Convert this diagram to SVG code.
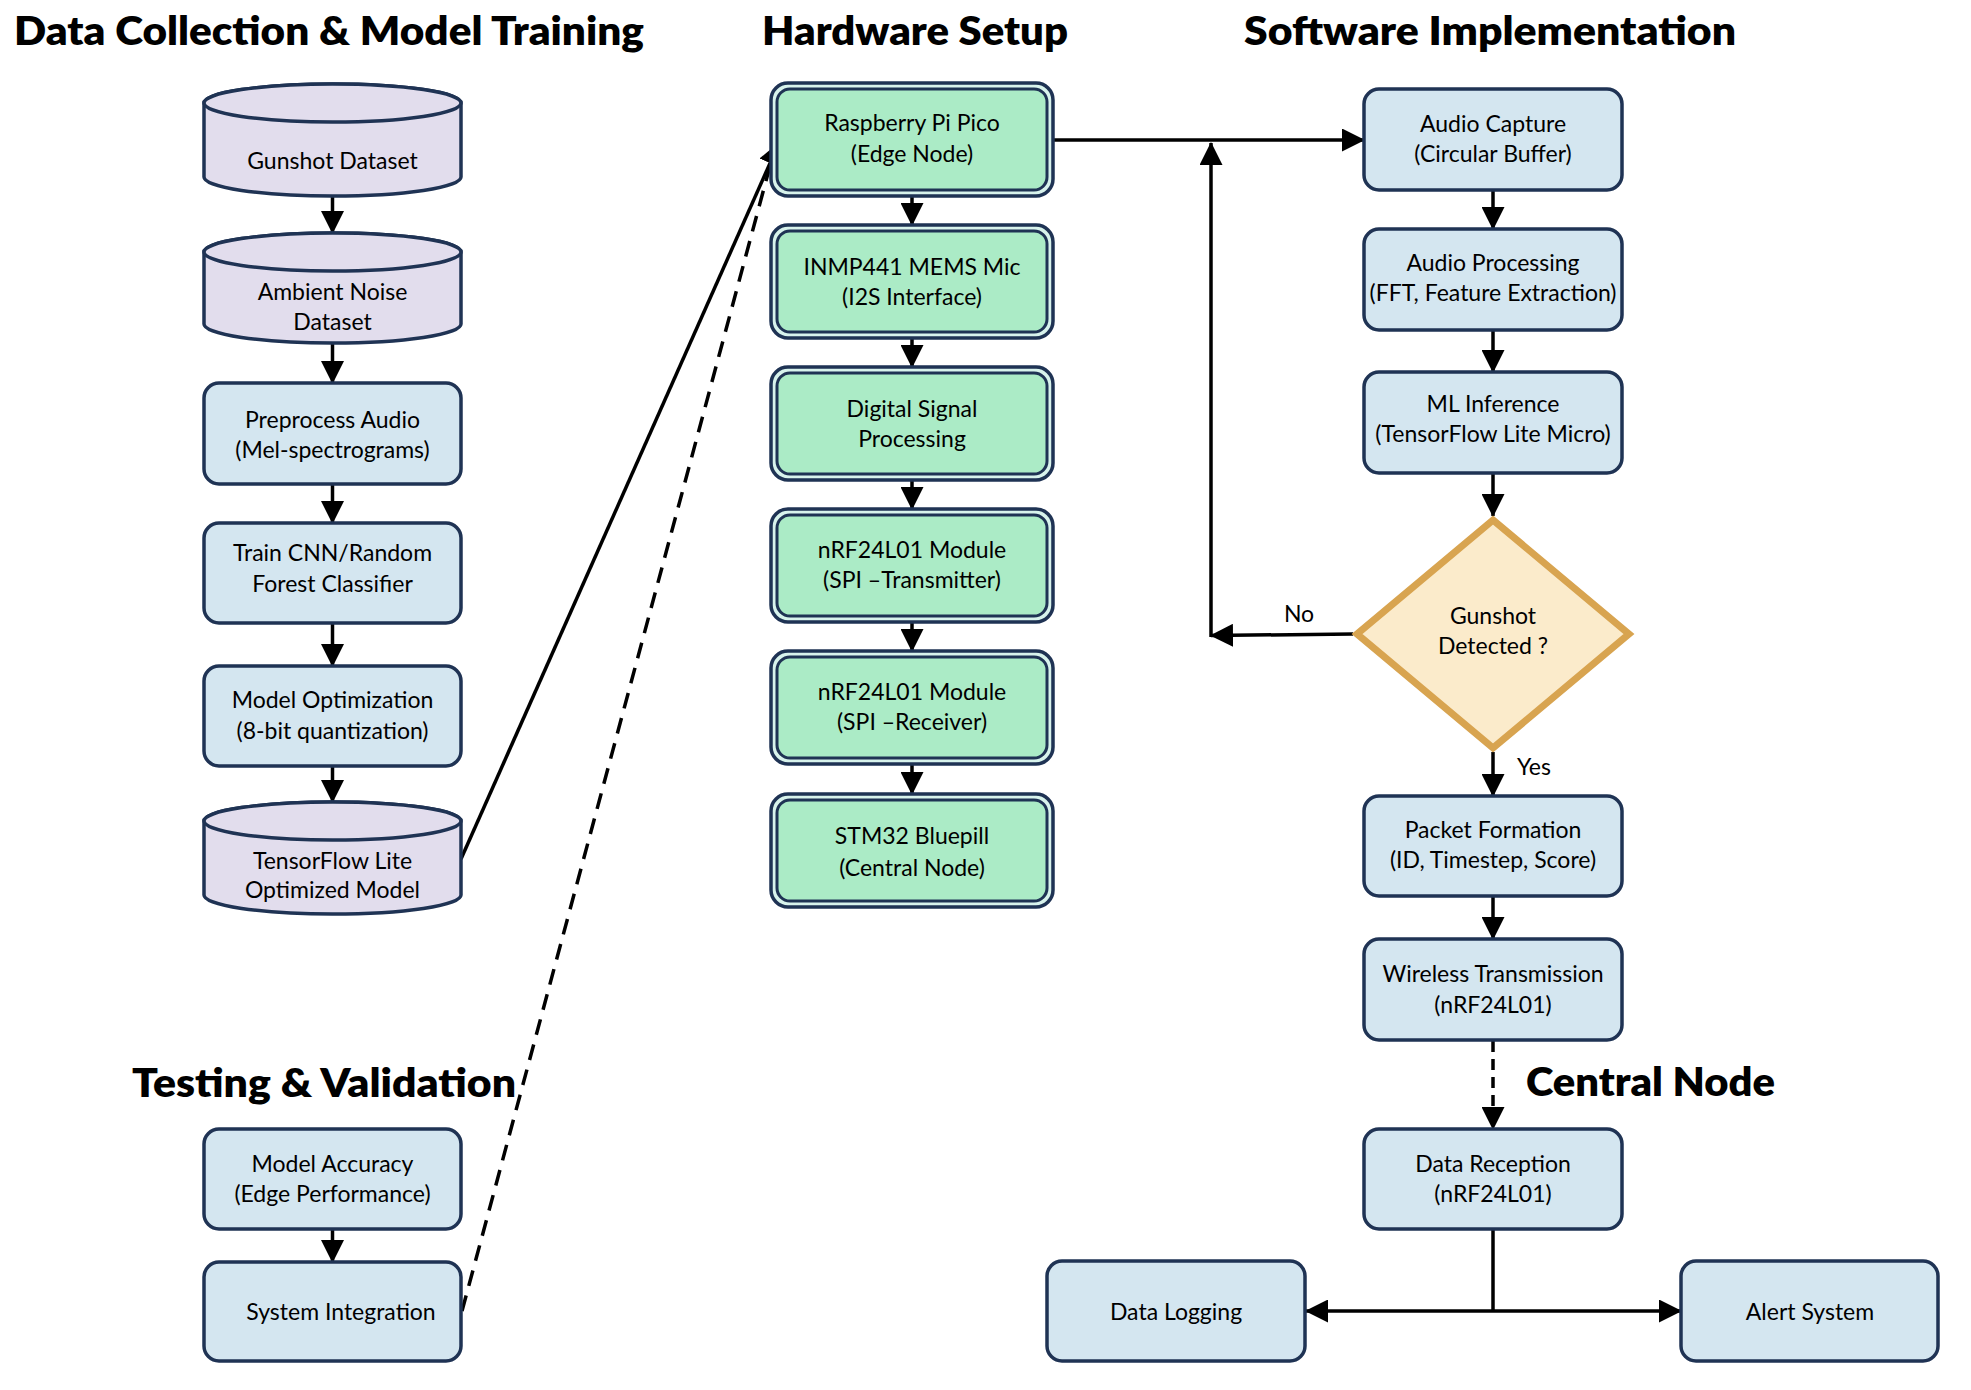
<svg xmlns="http://www.w3.org/2000/svg" width="1971" height="1390" viewBox="0 0 1971 1390">
<style>
.t{font-family:Lato,"Liberation Sans",sans-serif;font-size:23px;fill:#000;text-anchor:middle}
.h{font-family:Lato,"Liberation Sans",sans-serif;font-size:39px;font-weight:800;fill:#000}
.box{fill:#d4e6f0;stroke:#1f3354;stroke-width:3.5}
.cyl{fill:#e2dded;stroke:#1f3354;stroke-width:3.5}
.hwo{fill:#d8f3ec;stroke:#1f3354;stroke-width:3.5}
.hwi{fill:#abebc6;stroke:#1f3354;stroke-width:3}
.dia{fill:#fbebcb;stroke:#d8a450;stroke-width:7}
.c{fill:none;stroke:#000;stroke-width:3.5}
.d{stroke-dasharray:16 10}
</style>
<defs>
<marker id="ah" viewBox="0 0 23 23" refX="22" refY="11.5" markerWidth="23" markerHeight="23" markerUnits="userSpaceOnUse" orient="auto-start-reverse"><path d="M0,0 L23,11.5 L0,23 z" fill="#000"/></marker>
</defs>
<rect width="1971" height="1390" fill="#fff"/>

<g id="titles">
<text class="h" x="14" y="45" textLength="630" lengthAdjust="spacingAndGlyphs">Data Collection &amp; Model Training</text>
<text class="h" x="762" y="45" textLength="306" lengthAdjust="spacingAndGlyphs">Hardware Setup</text>
<text class="h" x="1244" y="45" textLength="492" lengthAdjust="spacingAndGlyphs">Software Implementation</text>
<text class="h" x="132" y="1097" textLength="384" lengthAdjust="spacingAndGlyphs">Testing &amp; Validation</text>
<text class="h" x="1526" y="1096" textLength="249" lengthAdjust="spacingAndGlyphs">Central Node</text>
</g>

<g id="connectors">
<path class="c" d="M332.5,197 V233" marker-end="url(#ah)"/>
<path class="c" d="M332.5,344 V383" marker-end="url(#ah)"/>
<path class="c" d="M332.5,485 V523" marker-end="url(#ah)"/>
<path class="c" d="M332.5,624 V666" marker-end="url(#ah)"/>
<path class="c" d="M332.5,767 V802" marker-end="url(#ah)"/>
<path class="c" d="M332.5,1229 V1262" marker-end="url(#ah)"/>
<path class="c" d="M912,196 V225" marker-end="url(#ah)"/>
<path class="c" d="M912,338 V367" marker-end="url(#ah)"/>
<path class="c" d="M912,480 V509" marker-end="url(#ah)"/>
<path class="c" d="M912,622 V651" marker-end="url(#ah)"/>
<path class="c" d="M912,764 V794" marker-end="url(#ah)"/>
<path class="c" d="M1493,191 V229" marker-end="url(#ah)"/>
<path class="c" d="M1493,331 V372" marker-end="url(#ah)"/>
<path class="c" d="M1493,474 V516" marker-end="url(#ah)"/>
<path class="c" d="M1493,752 V796" marker-end="url(#ah)"/>
<path class="c" d="M1493,897 V939" marker-end="url(#ah)"/>
<path class="c d" d="M1493,1041 V1129" style="stroke-dasharray:11 7" marker-end="url(#ah)"/>
<path class="c" d="M1054,140 H1364" marker-end="url(#ah)"/>
<path class="c" d="M1353,634 L1211,635.5" marker-end="url(#ah)"/>
<path class="c" d="M1211,637 V143" marker-end="url(#ah)"/>
<path class="c" d="M461,859 L779,143" marker-end="url(#ah)"/>
<path class="c d" d="M462,1311 L770,166"/>
<path class="c" d="M1493,1229 V1311" stroke-width="3"/>
<path class="c" d="M1306,1311 H1681" stroke-width="4.5" marker-start="url(#ah)" marker-end="url(#ah)"/>
</g>

<g id="gunshot-dataset">
<path class="cyl" d="M204,103 A128.5,19 0 0 1 461,103 V177 A128.5,19 0 0 1 204,177 Z"/>
<ellipse class="cyl" cx="332.5" cy="103" rx="128.5" ry="19"/>
<text class="t" x="332.5" y="169">Gunshot Dataset</text>
</g>
<g id="ambient-noise-dataset">
<path class="cyl" d="M204,252 A128.5,19 0 0 1 461,252 V324 A128.5,19 0 0 1 204,324 Z"/>
<ellipse class="cyl" cx="332.5" cy="252" rx="128.5" ry="19"/>
<text class="t" x="332.5" y="300">Ambient Noise</text>
<text class="t" x="332.5" y="330">Dataset</text>
</g>
<g id="preprocess-audio">
<rect class="box" x="204" y="383" width="257" height="101" rx="15"/>
<text class="t" x="332.5" y="428">Preprocess Audio</text>
<text class="t" x="332.5" y="458">(Mel-spectrograms)</text>
</g>
<g id="train-classifier">
<rect class="box" x="204" y="523" width="257" height="100" rx="15"/>
<text class="t" x="332.5" y="561">Train CNN/Random</text>
<text class="t" x="332.5" y="592">Forest Classifier</text>
</g>
<g id="model-optimization">
<rect class="box" x="204" y="666" width="257" height="100" rx="15"/>
<text class="t" x="332.5" y="708">Model Optimization</text>
<text class="t" x="332.5" y="739">(8-bit quantization)</text>
</g>
<g id="tflite-model">
<path class="cyl" d="M204,821 A128.5,19 0 0 1 461,821 V895 A128.5,19 0 0 1 204,895 Z"/>
<ellipse class="cyl" cx="332.5" cy="821" rx="128.5" ry="19"/>
<text class="t" x="332.5" y="869">TensorFlow Lite</text>
<text class="t" x="332.5" y="898">Optimized Model</text>
</g>
<g id="model-accuracy">
<rect class="box" x="204" y="1129" width="257" height="100" rx="15"/>
<text class="t" x="332.5" y="1172">Model Accuracy</text>
<text class="t" x="332.5" y="1202">(Edge Performance)</text>
</g>
<g id="system-integration">
<rect class="box" x="204" y="1262" width="257" height="99" rx="15"/>
<text class="t" x="341" y="1320">System Integration</text>
</g>

<g id="raspberry-pi-pico">
<rect class="hwo" x="771" y="83" width="282" height="113" rx="17"/>
<rect class="hwi" x="777" y="89" width="270" height="101" rx="13"/>
<text class="t" x="912" y="131">Raspberry Pi Pico</text>
<text class="t" x="912" y="162">(Edge Node)</text>
</g>
<g id="inmp441">
<rect class="hwo" x="771" y="225" width="282" height="113" rx="17"/>
<rect class="hwi" x="777" y="231" width="270" height="101" rx="13"/>
<text class="t" x="912" y="275">INMP441 MEMS Mic</text>
<text class="t" x="912" y="305">(I2S Interface)</text>
</g>
<g id="dsp">
<rect class="hwo" x="771" y="367" width="282" height="113" rx="17"/>
<rect class="hwi" x="777" y="373" width="270" height="101" rx="13"/>
<text class="t" x="912" y="417">Digital Signal</text>
<text class="t" x="912" y="447">Processing</text>
</g>
<g id="nrf-transmitter">
<rect class="hwo" x="771" y="509" width="282" height="113" rx="17"/>
<rect class="hwi" x="777" y="515" width="270" height="101" rx="13"/>
<text class="t" x="912" y="558">nRF24L01 Module</text>
<text class="t" x="912" y="588">(SPI –Transmitter)</text>
</g>
<g id="nrf-receiver">
<rect class="hwo" x="771" y="651" width="282" height="113" rx="17"/>
<rect class="hwi" x="777" y="657" width="270" height="101" rx="13"/>
<text class="t" x="912" y="700">nRF24L01 Module</text>
<text class="t" x="912" y="730">(SPI –Receiver)</text>
</g>
<g id="stm32">
<rect class="hwo" x="771" y="794" width="282" height="113" rx="17"/>
<rect class="hwi" x="777" y="800" width="270" height="101" rx="13"/>
<text class="t" x="912" y="844">STM32 Bluepill</text>
<text class="t" x="912" y="876">(Central Node)</text>
</g>

<g id="audio-capture">
<rect class="box" x="1364" y="89" width="258" height="101" rx="15"/>
<text class="t" x="1493" y="132">Audio Capture</text>
<text class="t" x="1493" y="162">(Circular Buffer)</text>
</g>
<g id="audio-processing">
<rect class="box" x="1364" y="229" width="258" height="101" rx="15"/>
<text class="t" x="1493" y="271">Audio Processing</text>
<text class="t" x="1493" y="301">(FFT, Feature Extraction)</text>
</g>
<g id="ml-inference">
<rect class="box" x="1364" y="372" width="258" height="101" rx="15"/>
<text class="t" x="1493" y="412">ML Inference</text>
<text class="t" x="1493" y="442">(TensorFlow Lite Micro)</text>
</g>
<g id="gunshot-detected">
<polygon class="dia" points="1493,520 1629,634 1493,748 1357,634"/>
<text class="t" x="1493" y="624">Gunshot</text>
<text class="t" x="1493" y="654">Detected ?</text>
</g>
<g id="packet-formation">
<rect class="box" x="1364" y="796" width="258" height="100" rx="15"/>
<text class="t" x="1493" y="838">Packet Formation</text>
<text class="t" x="1493" y="868">(ID, Timestep, Score)</text>
</g>
<g id="wireless-transmission">
<rect class="box" x="1364" y="939" width="258" height="101" rx="15"/>
<text class="t" x="1493" y="982">Wireless Transmission</text>
<text class="t" x="1493" y="1013">(nRF24L01)</text>
</g>
<g id="data-reception">
<rect class="box" x="1364" y="1129" width="258" height="100" rx="15"/>
<text class="t" x="1493" y="1172">Data Reception</text>
<text class="t" x="1493" y="1202">(nRF24L01)</text>
</g>
<g id="data-logging">
<rect class="box" x="1047" y="1261" width="258" height="100" rx="15"/>
<text class="t" x="1176" y="1320">Data Logging</text>
</g>
<g id="alert-system">
<rect class="box" x="1681" y="1261" width="257" height="100" rx="15"/>
<text class="t" x="1810" y="1320">Alert System</text>
</g>

<g id="labels">
<text class="t" x="1299" y="622">No</text>
<text class="t" x="1517" y="775" style="text-anchor:start">Yes</text>
</g>
</svg>
